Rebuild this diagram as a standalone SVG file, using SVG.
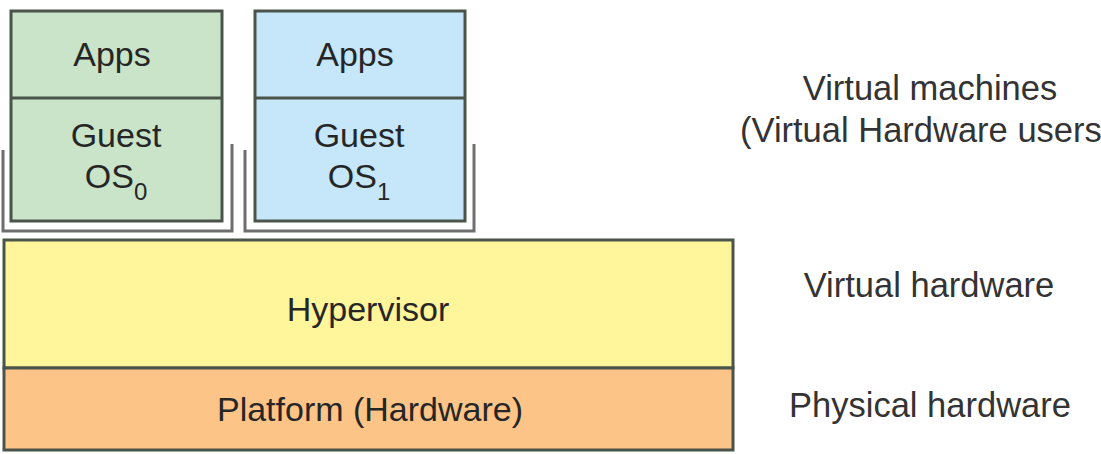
<svg xmlns="http://www.w3.org/2000/svg" width="1101" height="454" viewBox="0 0 1101 454">
<style>
.box{stroke:#4a544a;stroke-width:3}
.t{font-family:"Liberation Sans",Arial,sans-serif;font-size:34px;fill:#262626;text-anchor:middle}
.sub{font-size:24px}
.lbl{font-family:"Liberation Sans",Arial,sans-serif;font-size:34.5px;fill:#333;text-anchor:middle}
.br{fill:none;stroke:#6e6e6e;stroke-width:3}
</style>
<rect width="1101" height="454" fill="#ffffff"/>
<g id="vm0">
<rect class="box" x="11" y="11" width="211" height="210" fill="#c9e4c9"/>
<line class="box" x1="11" y1="98" x2="222" y2="98"/>
<text class="t" x="112" y="66">Apps</text>
<text class="t" x="116" y="147">Guest</text>
<text class="t" x="116" y="188">OS<tspan class="sub" dy="12">0</tspan></text>
</g>
<g id="vm1">
<rect class="box" x="255" y="11" width="210" height="210" fill="#c5e7f9"/>
<line class="box" x1="255" y1="98" x2="465" y2="98"/>
<text class="t" x="355" y="66">Apps</text>
<text class="t" x="359" y="147">Guest</text>
<text class="t" x="359" y="188">OS<tspan class="sub" dy="12">1</tspan></text>
</g>
<g id="brackets">
<polyline class="br" points="3,150 3,231 232,231 232,144"/>
<polyline class="br" points="245,150 245,231 474,231 474,144"/>
</g>
<g id="hypervisor">
<rect class="box" x="4" y="240" width="729" height="128" fill="#fff59a"/>
<text class="t" x="368" y="321">Hypervisor</text>
</g>
<g id="platform">
<rect class="box" x="4" y="368" width="729" height="82" fill="#fcc487"/>
<text class="t" x="370" y="421">Platform (Hardware)</text>
</g>
<g id="labels">
<text class="lbl" x="930" y="100">Virtual machines</text>
<text class="lbl" x="740" y="142" style="text-anchor:start">(Virtual Hardware users</text>
<text class="lbl" x="929" y="297">Virtual hardware</text>
<text class="lbl" x="930" y="417">Physical hardware</text>
</g>
</svg>
